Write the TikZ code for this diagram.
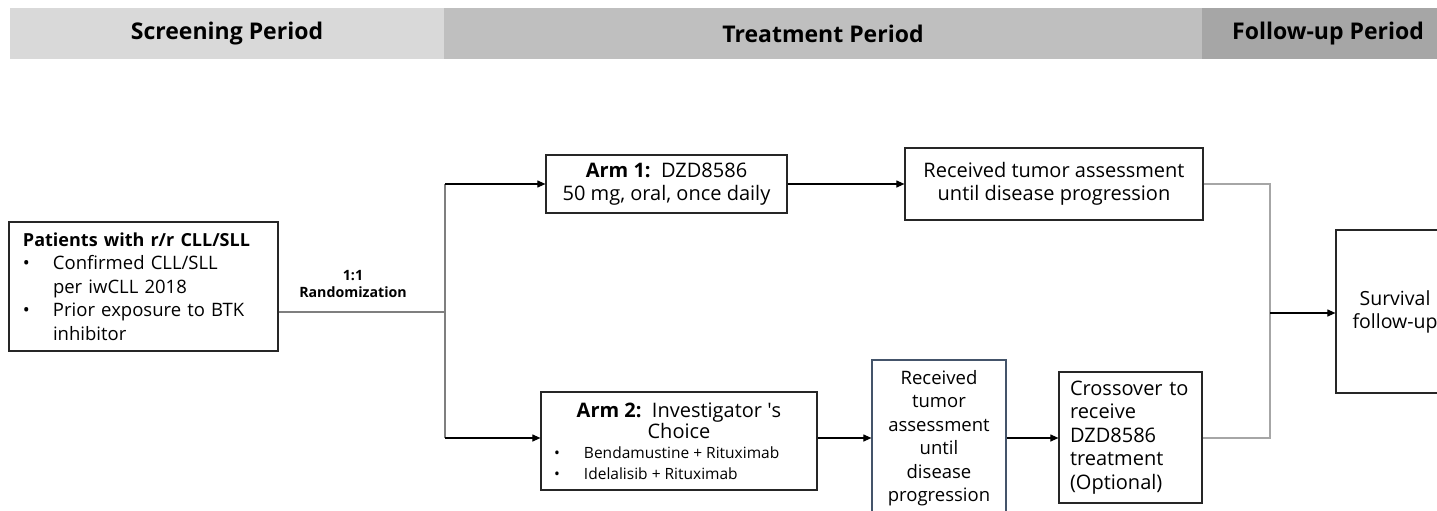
\documentclass[tikz,border=0pt]{standalone}
\usepackage{fontspec}
\setmainfont{Open Sans}
\usetikzlibrary{arrows.meta}
\definecolor{hdrA}{HTML}{D9D9D9}
\definecolor{hdrB}{HTML}{BFBFBF}
\definecolor{hdrC}{HTML}{A6A6A6}
\definecolor{boxline}{HTML}{262626}
\definecolor{slate}{HTML}{44546A}
\definecolor{glineC}{HTML}{7F7F7F}
\definecolor{lglineC}{HTML}{A6A6A6}
\tikzset{
  hdr/.style={minimum height=51pt, inner sep=0pt, font=\fontsize{23}{26}\selectfont\bfseries},
  box/.style={draw=boxline, line width=1.2pt, inner sep=0pt, font=\fontsize{20}{23.5}\selectfont},
  midfont/.style={font=\fontsize{18.5}{23.5}\selectfont},
  arr/.style={draw=black, line width=1.1pt, -{Triangle[length=8pt,width=7pt]}},
  gline/.style={draw=glineC, line width=1.1pt},
  lgline/.style={draw=lglineC, line width=1.1pt},
}
\newcommand{\myblline}[2]{\makebox[#1][l]{\fontsize{15.5}{19}\selectfont\makebox[30pt][l]{\textbullet}#2}}
\begin{document}
\begin{tikzpicture}[x=1pt,y=-1pt]
\useasboundingbox (0,0) rectangle (1437,511);
\clip (0,0) rectangle (1437,511);
% header
\node[hdr, fill=hdrA, minimum width=434pt] (hs) at (227,33.5) {Screening Period};
\node[hdr, fill=hdrB, minimum width=758pt] (ht) at (823,33.5) {Treatment Period};
\node[hdr, fill=hdrC, minimum width=252pt] (hf) at (1328,33.5) {Follow-up Period};
% boxes
\node[box, midfont, minimum width=269pt, minimum height=129pt, align=left, text width=241pt] (pat) at (143.5,286.5)
  {{\fontsize{18}{23.5}\selectfont\textbf{Patients with r/r CLL/SLL}}\\
   \makebox[30pt][l]{\textbullet}Confirmed CLL/SLL\\
   \hspace*{30pt}per iwCLL 2018\\
   \makebox[30pt][l]{\textbullet}Prior exposure to BTK\\
   \hspace*{30pt}inhibitor};
\node[box, minimum width=241pt, minimum height=58pt, align=center] (arm1) at (666.5,184)
  {\textbf{Arm 1:}\ \ DZD8586\\50 mg, oral, once daily};
\node[box, minimum width=298pt, minimum height=72pt, align=center] (rec1) at (1054,184)
  {Received tumor assessment\\until disease progression};
\node[box, minimum width=276pt, minimum height=98pt, align=center] (arm2) at (679,441)
  {\textbf{Arm 2:}\ \ Investigator \textquotesingle s\\[-3pt]Choice\\[-3pt]
   \myblline{250pt}{Bendamustine + Rituximab}\\[-3pt]
   \myblline{250pt}{Idelalisib + Rituximab}};
\node[box, midfont, draw=slate, minimum width=134pt, minimum height=156pt, align=center] (rec2) at (939,438)
  {Received\\tumor\\assessment\\until\\disease\\progression};
\node[box, minimum width=143pt, minimum height=131pt, align=left, text width=121pt] (cross) at (1130.5,437.5)
  {Crossover to\\receive\\DZD8586\\treatment\\(Optional)};
\node[box, font=\fontsize{19.5}{23}\selectfont, minimum width=118pt, minimum height=163pt, align=center] (surv) at (1395,311.5)
  {Survival\\follow-up};
% randomization label
\node[font=\fontsize{14.2}{17}\selectfont\bfseries, align=center] (rlab) at (353,284) {1:1\\Randomization};
% junction coordinates
\coordinate (rnd) at (445,312);
\coordinate (top) at (445,184);
\coordinate (bot) at (445,438);
\coordinate (jt) at (1270,184);
\coordinate (jm) at (1270,313);
\coordinate (jb) at (1270,438);
% connectors
\draw[gline] (pat.east |- rnd) -- (rnd);
\draw[gline] (top) -- (bot);
\draw[arr] (top) -- (arm1.west);
\draw[arr] (bot) -- (bot -| arm2.west);
\draw[arr] (arm1.east) -- (arm1.east -| rec1.west);
\draw[arr] (arm2.east |- bot) -- (bot -| rec2.west);
\draw[arr] (rec2.east |- bot) -- (bot -| cross.west);
\draw[lgline] (rec1.east) -- (jt) -- (jb) -- (jb -| cross.east);
\draw[arr] (jm) -- (jm -| surv.west);
\end{tikzpicture}
\end{document}
